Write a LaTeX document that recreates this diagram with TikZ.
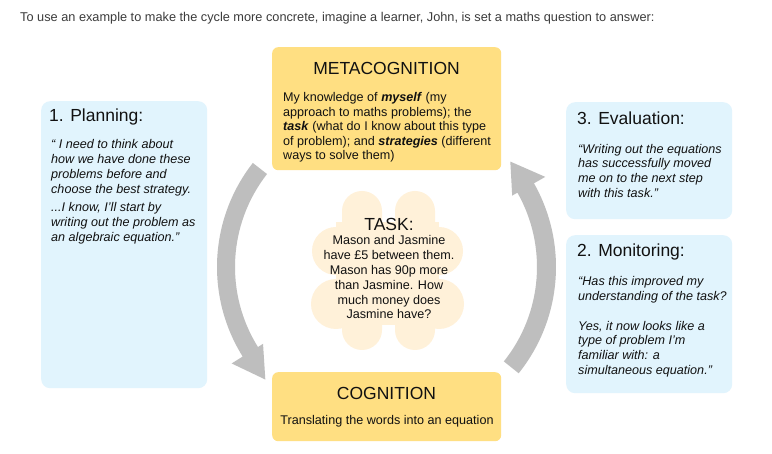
\documentclass[tikz,border=0pt]{standalone}
\usepackage{fontspec}
\setmainfont{Liberation Sans}
\definecolor{boxblue}{RGB}{225,244,253}
\definecolor{boxyellow}{RGB}{255,223,130}
\definecolor{cloudpeach}{RGB}{255,241,217}
\definecolor{arrowgray}{RGB}{190,190,190}
\definecolor{introgray}{RGB}{60,60,60}
\definecolor{txt}{RGB}{17,17,17}
\tikzset{
  bluebox/.style={fill=boxblue, rounded corners=9pt, inner sep=0pt, anchor=north west},
  yellowbox/.style={fill=boxyellow, rounded corners=6pt, inner sep=0pt, anchor=north west},
  ttl/.style={font=\fontsize{17.5}{21}\selectfont, inner sep=0pt, text=txt},
  body/.style={font=\fontsize{12.6}{14.8}\selectfont, inner sep=0pt, align=left, text=txt},
  ibody/.style={body, font=\fontsize{12.6}{14.8}\selectfont\itshape},
  cyclearrow/.style={fill=arrowgray},
  cloudpart/.style={fill=cloudpeach}
}
\newcommand{\bi}[1]{\textbf{\textit{#1}}}
\begin{document}
\begin{tikzpicture}[x=1pt,y=-1pt]
\useasboundingbox (0,0) rectangle (772,454);
\fill[white] (0,0) rectangle (772,454);

% intro
\node[anchor=base west, inner sep=0pt, font=\fontsize{12.75}{15}\selectfont, text=introgray] (intro) at (20,21.5)
  {To use an example to make the cycle more concrete, imagine a learner, John, is set a maths question to answer:};

% cycle arrows
\begin{scope}[shift={(386,267)}]
  \fill[cyclearrow] (142:169pt) arc[start angle=142, end angle=212, radius=169pt]
     -- (212:182pt) -- (223:165pt) -- (212:145pt) -- (212:151pt)
     arc[start angle=212, end angle=142, radius=151pt] -- cycle;
  \fill[cyclearrow] (-38.7:170pt) arc[start angle=-38.7, end angle=29.5, radius=170pt]
     -- (29.5:183pt) -- (40.3:163pt) -- (29.5:145pt) -- (29.5:151pt)
     arc[start angle=29.5, end angle=-38.7, radius=151pt] -- cycle;
\end{scope}

% cloud
\fill[cloudpart, rounded corners=20pt] (342,191) rectangle (382,256);
\fill[cloudpart, rounded corners=20pt] (395,191) rectangle (435,256);
\fill[cloudpart, rounded corners=20pt] (342,288) rectangle (382,350);
\fill[cloudpart, rounded corners=20pt] (395,288) rectangle (435,350);
\fill[cloudpart] (336,251) circle[radius=24pt];
\fill[cloudpart] (336,304) circle[radius=25pt];
\fill[cloudpart] (439,251) circle[radius=24pt];
\fill[cloudpart] (439,304) circle[radius=25pt];
\fill[cloudpart] (336,222) rectangle (439,325);

% boxes
\node[bluebox, minimum width=166pt, minimum height=287pt] (planbox) at (41,101) {};
\node[bluebox, minimum width=166pt, minimum height=117pt] (evalbox) at (566,102) {};
\node[bluebox, minimum width=166pt, minimum height=158pt] (monbox) at (566,235) {};
\node[yellowbox, minimum width=229pt, minimum height=123pt] (metabox) at (272,47) {};
\node[yellowbox, minimum width=229pt, minimum height=69pt] (cogbox) at (272,372) {};

% planning (base anchor = baseline of last line)
\node[ttl, anchor=base west] (plantitle) at (49,121.5) {1. Planning:};
\node[ibody, font=\fontsize{12.6}{15}\selectfont\itshape, anchor=base west] (plantext) at (51,242)
  {“ I need to think about\\ how we have done these\\ problems before and\\ choose the best strategy.\\[3pt]
   ...I know, I’ll start by\\ writing out the problem as\\ an algebraic equation.”};

% metacognition
\node[ttl, anchor=base] (metatitle) at (386.5,74.5) {METACOGNITION};
\node[body, font=\fontsize{12.6}{14.5}\selectfont, anchor=base west] (metatext) at (283,160)
  {My knowledge of \bi{myself} (my\\ approach to maths problems); the\\ \bi{task} (what do I know about this type\\ of problem); and \bi{strategies} (different\\ ways to solve them)};

% evaluation
\node[ttl, anchor=base west] (evaltitle) at (577,124.5) {3. Evaluation:};
\node[ibody, anchor=base west] (evaltext) at (578,197.5)
  {“Writing out the equations\\ has successfully moved\\ me on to the next step\\ with this task.”};

% monitoring
\node[ttl, anchor=base west] (montitle) at (577,256.5) {2. Monitoring:};
\node[ibody, anchor=base west] (montext) at (578,374.5)
  {“Has this improved my\\ understanding of the task?\\[14.8pt]
   Yes, it now looks like a\\ type of problem I’m\\ familiar with: a\\ simultaneous equation.”};

% task
\node[ttl, anchor=base] (tasktitle) at (389,230.5) {TASK:};
\node[body, align=center, font=\fontsize{12.6}{14.9}\selectfont, anchor=base] (tasktext) at (389,319)
  {Mason and Jasmine\\ have £5 between them.\\ Mason has 90p more\\ than Jasmine. How\\ much money does\\ Jasmine have?};

% cognition
\node[ttl, anchor=base] (cogtitle) at (386.5,399.5) {COGNITION};
\node[body, anchor=base] (cogtext) at (387,425) {Translating the words into an equation};
\end{tikzpicture}
\end{document}
